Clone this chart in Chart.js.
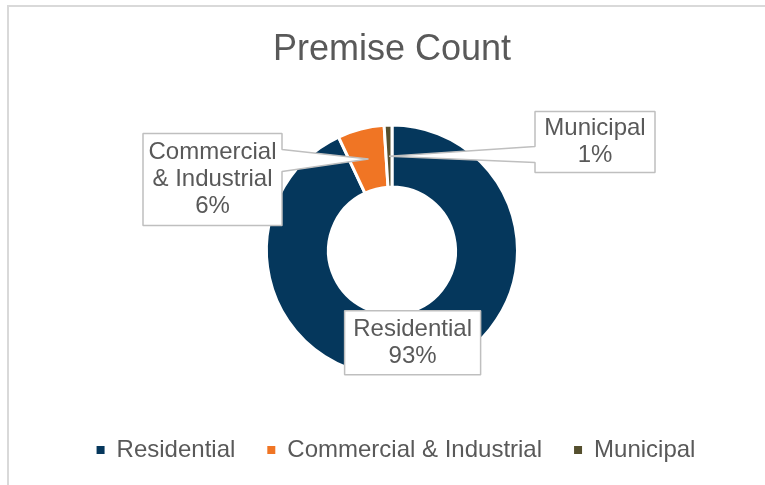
<!DOCTYPE html>
<html>
<head>
<meta charset="utf-8">
<title>Premise Count</title>
<style>
  html, body { margin: 0; padding: 0; background: #ffffff; }
  #wrap { width: 765px; height: 485px; position: relative; }
</style>
<script src="https://cdn.jsdelivr.net/npm/chart.js@4.4.1/dist/chart.umd.min.js"></script>
</head>
<body>
<div id="wrap"><canvas id="premiseChart" width="765" height="485"></canvas></div>
<script>
// Share of premises by customer class (percent)
const categories = ['Residential', 'Commercial & Industrial', 'Municipal'];
const shares = [93, 6, 1];
const sliceColors = ['#05375C', '#F07524', '#554F2E'];
// Name lines shown in each data callout (the percentage is appended below)
const calloutNames = [['Residential'], ['Commercial', '& Industrial'], ['Municipal']];

const TEXT_GREY = '#595959';
const FONT_STACK = "'Liberation Sans', Arial, Helvetica, sans-serif";

Chart.defaults.font.family = FONT_STACK;
Chart.defaults.color = TEXT_GREY;

// Callout boxes: offset of the box centre from the ring centre (null = sit on the slice),
// box size, and which edge carries the pointer (with its base span from the box top).
const calloutLayout = [
  { dx: null, dy: null, w: 136, h: 64, side: null },
  { dx: -179.5, dy: -71, w: 139, h: 92, side: 'right', b0: 16, b1: 38 },
  { dx: 203, dy: -108.5, w: 120, h: 61, side: 'left', b0: 35, b1: 51 }
];
const CALLOUT_LINE = 27;

// Thin frame along the top and left of the chart
const framePlugin = {
  id: 'frame',
  beforeDraw(chart) {
    const ctx = chart.ctx;
    ctx.save();
    ctx.strokeStyle = '#D9D9D9';
    ctx.lineWidth = 2;
    ctx.beginPath();
    ctx.moveTo(8, chart.height);
    ctx.lineTo(8, 6);
    ctx.lineTo(chart.width, 6);
    ctx.stroke();
    ctx.restore();
  }
};

// Shift the legend row a little to the right
const legendNudge = {
  id: 'legendNudge',
  afterLayout(chart) {
    const lg = chart.legend;
    if (lg) { lg.left += 4; lg.right += 4; }
  }
};

// Data callouts: white box with a grey outline, pointer to the slice centre
const calloutPlugin = {
  id: 'callouts',
  afterDatasetsDraw(chart) {
    const ctx = chart.ctx;
    const meta = chart.getDatasetMeta(0);
    const values = chart.data.datasets[0].data;
    const total = values.reduce((a, b) => a + b, 0);
    meta.data.forEach((arc, i) => {
      const L = calloutLayout[i];
      const tip = arc.getCenterPoint();
      const cx = L.dx === null ? tip.x : arc.x + L.dx;
      const cy = L.dy === null ? tip.y : arc.y + L.dy;
      const left = cx - L.w / 2, right = cx + L.w / 2;
      const top = cy - L.h / 2, bottom = cy + L.h / 2;

      ctx.save();
      ctx.beginPath();
      ctx.moveTo(left, top);
      ctx.lineTo(right, top);
      if (L.side === 'right') {
        ctx.lineTo(right, top + L.b0);
        ctx.lineTo(tip.x, tip.y);
        ctx.lineTo(right, top + L.b1);
      }
      ctx.lineTo(right, bottom);
      ctx.lineTo(left, bottom);
      if (L.side === 'left') {
        ctx.lineTo(left, top + L.b1);
        ctx.lineTo(tip.x, tip.y);
        ctx.lineTo(left, top + L.b0);
      }
      ctx.closePath();
      ctx.fillStyle = '#FFFFFF';
      ctx.fill();
      ctx.strokeStyle = '#BFBFBF';
      ctx.lineWidth = 1.5;
      ctx.lineJoin = 'bevel';
      ctx.stroke();

      const pct = Math.round(values[i] / total * 100) + '%';
      const lines = calloutNames[i].concat([pct]);
      ctx.fillStyle = TEXT_GREY;
      ctx.font = '24px ' + FONT_STACK;
      ctx.textAlign = 'center';
      ctx.textBaseline = 'middle';
      lines.forEach((t, k) => {
        ctx.fillText(t, cx, cy + (k - (lines.length - 1) / 2) * CALLOUT_LINE);
      });
      ctx.restore();
    });
  }
};

new Chart(document.getElementById('premiseChart'), {
  type: 'doughnut',
  data: {
    labels: categories,
    datasets: [{
      data: shares,
      backgroundColor: sliceColors,
      borderColor: '#FFFFFF',
      borderWidth: 3,
      hoverOffset: 0
    }]
  },
  options: {
    responsive: false,
    animation: false,
    radius: 125.5,
    cutout: '50.6%',
    layout: { padding: { left: 19, right: 0, top: 0, bottom: 13 } },
    plugins: {
      title: {
        display: true,
        text: 'Premise Count',
        color: TEXT_GREY,
        font: { size: 36, weight: 'normal' },
        padding: { top: 28, bottom: 24 }
      },
      legend: {
        position: 'bottom',
        labels: {
          boxWidth: 8,
          boxHeight: 8,
          padding: 32,
          color: TEXT_GREY,
          font: { size: 24 },
          generateLabels(chart) {
            const base = Chart.overrides.doughnut.plugins.legend.labels.generateLabels(chart);
            return base.map(item => Object.assign(item, { lineWidth: 0, strokeStyle: 'rgba(0,0,0,0)' }));
          }
        }
      },
      tooltip: { enabled: false }
    }
  },
  plugins: [framePlugin, legendNudge, calloutPlugin]
});
</script>
</body>
</html>
